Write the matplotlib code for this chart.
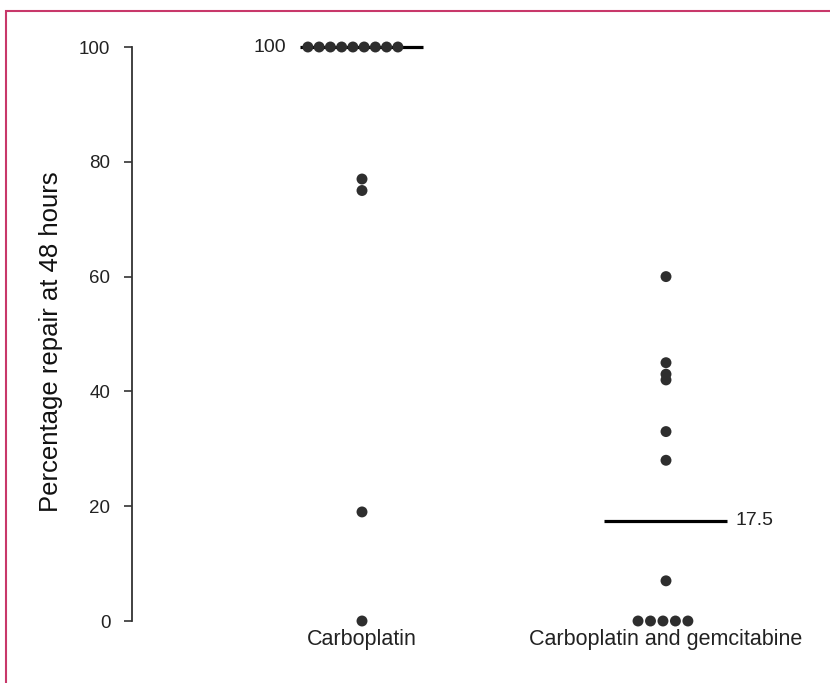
import numpy as np
import matplotlib
matplotlib.use("Agg")
import matplotlib.pyplot as plt
from matplotlib.patches import Rectangle

plt.rcParams['font.family'] = ['Liberation Sans', 'DejaVu Sans']

categories = ["Carboplatin", "Carboplatin and gemcitabine"]
carboplatin = [100, 100, 100, 100, 100, 100, 100, 100, 100, 77, 75, 19, 0]
carbo_gem = [60, 45, 43, 42, 33, 28, 7, 0, 0, 0, 0, 0]
yticks = [0, 20, 40, 60, 80, 100]
ylabel = "Percentage repair at 48 hours"

groups = [carboplatin, carbo_gem]
spacing = [0.037, 0.041]
shift = [-0.03, -0.01]

W, H = 830, 683
fig = plt.figure(figsize=(W / 100, H / 100), dpi=100)
ax = fig.add_axes([132 / W, 1 - 621 / H, (800 - 132) / W, (621 - 47) / H])

dot_color = '#2e2e2e'
for i, vals in enumerate(groups):
    pos = i + 1
    vals = np.array(vals, dtype=float)
    xs = np.zeros_like(vals)
    for v in np.unique(vals):
        idx = np.where(vals == v)[0]
        n = len(idx)
        if n > 1:
            xs[idx] = (np.arange(n) - (n - 1) / 2) * spacing[i] + shift[i]
    ax.scatter(pos + xs, vals, s=62, color=dot_color, edgecolors='none',
               zorder=3, clip_on=False)
    med = np.median(vals)
    ax.plot([pos - 0.204, pos + 0.2], [med, med], color='black', lw=2.3,
            solid_capstyle='butt', zorder=2, clip_on=False)
    lab = f"{med:g}"
    if i == 0:
        ax.text(pos - 0.25, med, lab, ha='right', va='center', fontsize=14,
                color='#222222')
    else:
        ax.text(pos + 0.227, med, lab, ha='left', va='center', fontsize=14,
                color='#222222')

ax.set_xlim(1 - 230 / 304, 2 + 134 / 304)
ax.set_ylim(0, 100)
ax.set_yticks(yticks)
ax.set_xticks([1, 2])
ax.set_xticklabels(categories, fontsize=15.5, color='#222222')
ax.tick_params(axis='x', length=0, pad=6)
ax.tick_params(axis='y', length=6, width=1.2, pad=9.5, labelsize=13.5,
               color='#333333', labelcolor='#222222')
for s in ['top', 'right', 'bottom']:
    ax.spines[s].set_visible(False)
ax.spines['left'].set_color('#333333')
ax.spines['left'].set_linewidth(1.3)
ax.set_ylabel(ylabel, fontsize=18.5, color='#111111')
ax.yaxis.set_label_coords(63 / W, 0.5, transform=fig.transFigure)

fig.patches.append(Rectangle((5.5 / W, -0.1), 1.1, 1 - 11 / H + 0.1,
                             transform=fig.transFigure, fill=False,
                             edgecolor='#c8386a', lw=1.5))

fig.savefig("out.png", dpi=100)
